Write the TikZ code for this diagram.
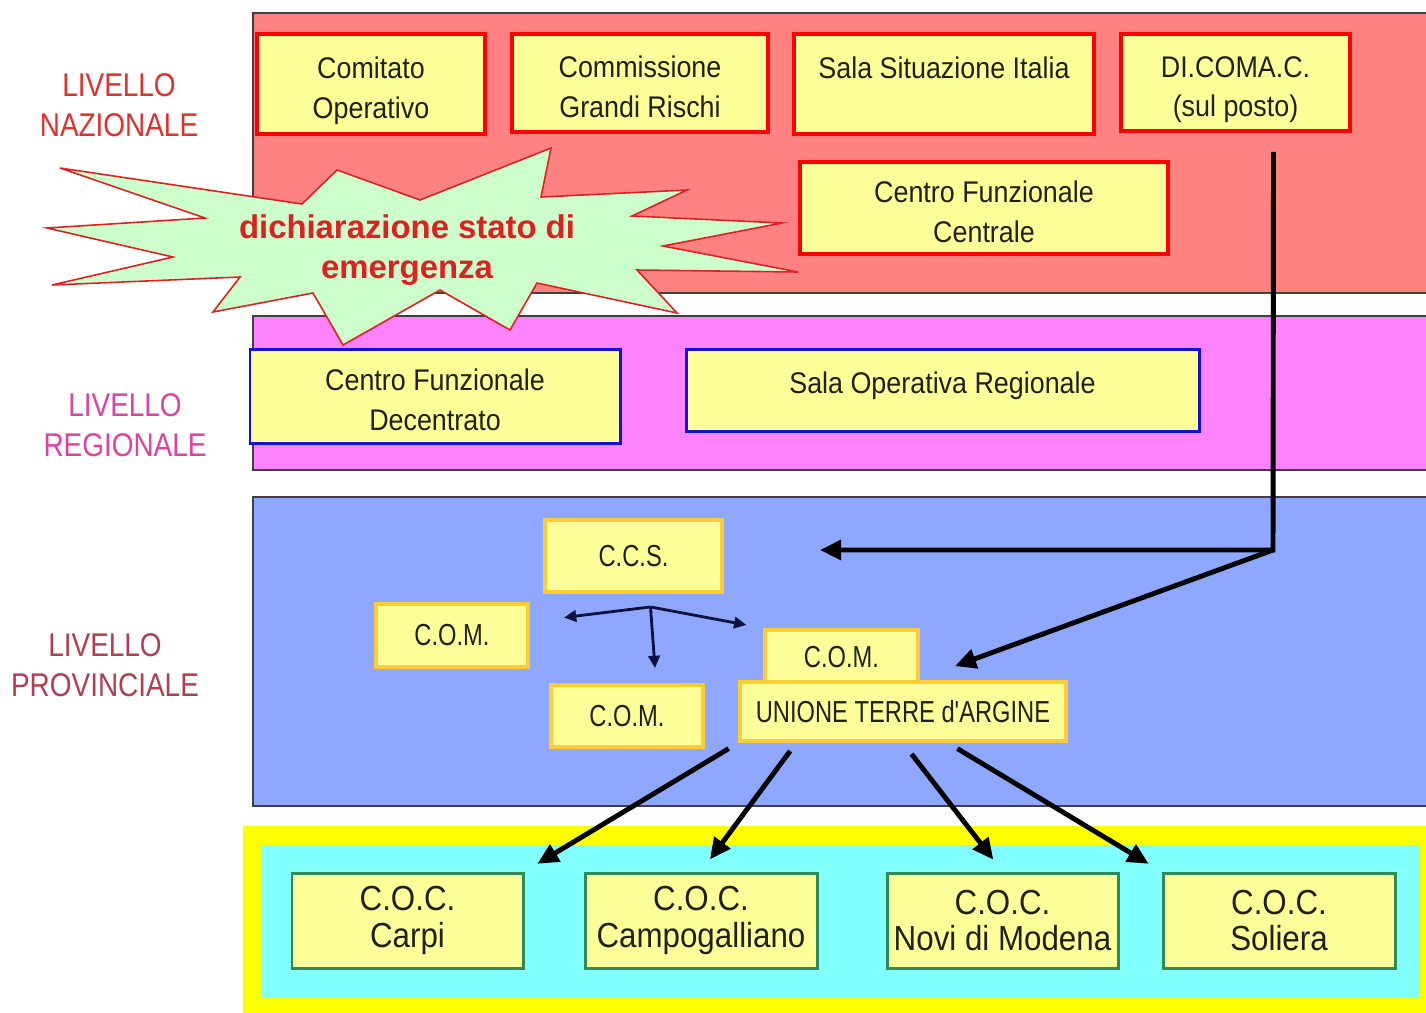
\documentclass[tikz,border=0pt]{standalone}
\usepackage{fontspec}
\setmainfont{Liberation Sans}
\newfontfamily\boxsf[FakeStretch=0.9]{Liberation Sans}
\newfontfamily\levelsf[FakeStretch=0.85]{Liberation Sans}
\newfontfamily\provsf[FakeStretch=0.78]{Liberation Sans}
\usetikzlibrary{calc}
\usetikzlibrary{arrows.meta}

\definecolor{natband}{HTML}{FF8282}
\definecolor{regband}{HTML}{FF82FF}
\definecolor{provband}{HTML}{8EA8FF}
\definecolor{comyellow}{HTML}{FFFF00}
\definecolor{comcyan}{HTML}{82FFFF}
\definecolor{boxfill}{HTML}{FFFF99}
\definecolor{boxtext}{HTML}{202014}
\definecolor{regblue}{HTML}{1010E0}
\definecolor{provgold}{HTML}{FFCC33}
\definecolor{cocgreen}{HTML}{2E8B57}
\definecolor{burstfill}{HTML}{CCFFCC}
\definecolor{burstred}{HTML}{E02020}
\definecolor{natlabel}{HTML}{E0302E}
\definecolor{reglabel}{HTML}{E0409F}
\definecolor{provlabel}{HTML}{B43C50}
\definecolor{arrownavy}{HTML}{101040}

\begin{document}
\begin{tikzpicture}[x=0.02cm,y=-0.02cm,
  band/.style={draw=black!75, line width=0.8pt},
  size/.style 2 args={minimum width=#1*0.02cm, minimum height=#2*0.02cm},
  twoline/.style={text height=39.2pt, text depth=0pt},
  boxbase/.style={fill=boxfill, inner sep=0pt, align=center, text=boxtext,
    font=\boxsf\fontsize{17}{22.7}\selectfont},
  natbox/.style={boxbase, twoline, draw=red, line width=2.2pt},
  regbox/.style={boxbase, draw=regblue, line width=1.7pt},
  provbox/.style={boxbase, draw=provgold, line width=2.2pt, font=\provsf\fontsize{17.3}{20}\selectfont},
  cocbox/.style={boxbase, draw=cocgreen, line width=1.7pt, font=\boxsf\fontsize{19.8}{21}\selectfont},
  level/.style={align=center, font=\levelsf\fontsize{18.7}{22.7}\selectfont},
  burst/.style={draw=burstred, line width=0.9pt, fill=burstfill, line join=miter},
  bursttext/.style={align=center, text=burstred, font=\bfseries\fontsize{18.7}{22.7}\selectfont},
  bigarrow/.style={line width=2.8pt, -{Triangle[length=12pt,width=11pt]}},
  smallarrow/.style={line width=1.6pt, draw=arrownavy, -{Triangle[length=7pt,width=6.5pt]}}]

\useasboundingbox (0,0) rectangle (1426,1012);

% bands
\draw[band, fill=natband] (253,13) rectangle (1440,293);
\draw[band, fill=regband] (253,316) rectangle (1440,470);
\draw[band, fill=provband] (253,497) rectangle (1440,806);
\fill[comyellow] (243,826) rectangle (1440,1020);
\fill[comcyan] (262,845) rectangle (1420,998);

% level labels
\node[level, text=natlabel] (lnaz) at (119,105) {LIVELLO\\NAZIONALE};
\node[level, text=reglabel] (lreg) at (125,425) {LIVELLO\\REGIONALE};
\node[level, text=provlabel] (lprov) at (105,665) {LIVELLO\\PROVINCIALE};

% burst
\draw[burst] (60,168) -- (302,204) -- (337,170) -- (420,200) -- (551,148) -- (541,197)
  -- (687,190) -- (632,216) -- (782,223) -- (663,246) -- (798,272) -- (637,270)
  -- (677,313) -- (537,283) -- (510,330) -- (440,290) -- (343,345) -- (313,293)
  -- (213,312) -- (240,277) -- (52,285) -- (173,257) -- (47,228) -- (205,218) -- cycle;
\node[bursttext] (decl) at (407,250) {dichiarazione stato di\\emergenza};

% national level
\node[natbox, size={228}{100}] (comitato) at (371,84) {Comitato\\Operativo};
\node[natbox, size={256}{98}] (grandi) at (640,83) {Commissione\\Grandi Rischi};
\node[natbox, size={300}{100}] (sala) at (944,84) {Sala Situazione Italia\\\strut};
\node[natbox, size={229}{97}] (dicomac) at (1235.5,82.5) {DI.COMA.C.\\(sul posto)};
\node[natbox, size={368}{92}] (cfc) at (984,208) {Centro Funzionale\\Centrale};

% regional level
\node[regbox, twoline, size={370}{94}] (cfd) at (435,396) {Centro Funzionale\\Decentrato};
\node[regbox, size={513}{82}] (sor) at (942.5,390) {\raisebox{8pt}{Sala Operativa Regionale}};

% provincial level
\node[provbox, size={177}{72}] (ccs) at (633.5,556) {C.C.S.};
\node[provbox, size={152}{63}] (comleft) at (452,635.5) {C.O.M.};
\node[provbox, size={152}{62}] (combot) at (627,716) {C.O.M.};
\node[provbox, size={153}{55}] (comtop) at (841.5,657.5) {C.O.M.};
\node[provbox, size={326}{59}] (union) at (903,711.5) {UNIONE TERRE d'ARGINE};

% municipal level
\node[cocbox, size={231}{95}] (carpi) at (407.5,920.5) {C.O.C.\\Carpi};
\node[cocbox, size={232}{95}] (campo) at (701,920.5) {C.O.C.\\Campogalliano};
\node[cocbox, size={231}{95}] (novi) at (1002.5,920.5) {C.O.C.\\Novi di Modena};
\node[cocbox, size={232}{95}] (soliera) at (1279,920.5) {C.O.C.\\Soliera};

% arrows
\coordinate (junc) at (1273,550);
\draw[bigarrow, shorten >=1.92cm] ($(dicomac.south)+(38,19)$) -- (junc) -- (junc -| ccs.east);
\draw[bigarrow] (junc) -- ($(union.north)+(52,-14)$);

\coordinate (split) at ($(ccs.south)+(17,13)$);
\draw[smallarrow] (split) -- ($(comleft.east)+(34,-18)$);
\draw[smallarrow] (split) -- ($(combot.north)+(28,-15)$);
\draw[smallarrow, shorten >=0.34cm] (split) -- (comtop.north west);

\draw[bigarrow, shorten <=0.22cm, shorten >=0.3cm] (union.south west) -- (carpi.north east);
\draw[bigarrow, shorten <=0.2cm, shorten >=0.3cm] ($(union.south west)+(58,0)$) -- (campo.north);
\draw[bigarrow, shorten <=0.28cm, shorten >=0.3cm] (union.south) -- (novi.north);
\draw[bigarrow, shorten <=0.22cm, shorten >=0.3cm] ($(union.south)+(45,0)$) -- (soliera.north west);

\end{tikzpicture}
\end{document}
